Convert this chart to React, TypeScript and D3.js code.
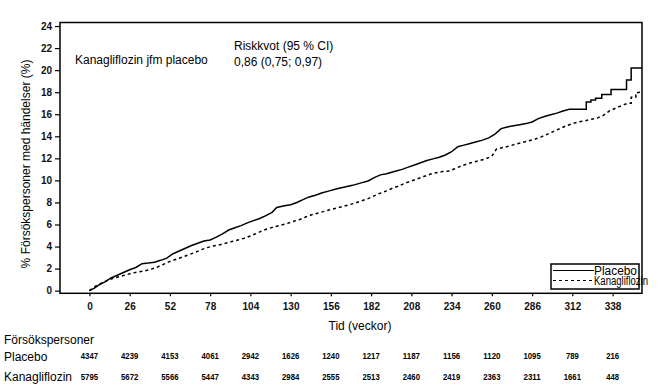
import React, { useEffect, useRef } from 'react'
import * as d3 from 'd3'

// Kaplan-Meier cumulative incidence (%): [week, percent]
// repeated weeks mark the visible vertical steps
const placeboCurve: [number, number][] = [
  [0, 0], [3, 0.2], [6, 0.5], [10, 0.8], [14, 1.15], [18, 1.4], [22, 1.65], [26, 1.9],
  [30, 2.1], [34, 2.45], [38, 2.5], [42, 2.57], [46, 2.75], [50, 2.95], [54, 3.35], [58, 3.6],
  [62, 3.85], [66, 4.1], [70, 4.3], [74, 4.5], [78, 4.6], [82, 4.85], [86, 5.15], [90, 5.5],
  [94, 5.7], [98, 5.9], [102, 6.15], [106, 6.35], [110, 6.55], [114, 6.8], [118, 7.1], [121, 7.55],
  [126, 7.7], [130, 7.8], [134, 8.0], [138, 8.25], [142, 8.5], [146, 8.65], [150, 8.85], [155, 9.05],
  [160, 9.25], [165, 9.4], [170, 9.55], [175, 9.75], [180, 9.95], [184, 10.25], [188, 10.5], [192, 10.6],
  [197, 10.8], [202, 11.0], [206, 11.2], [210, 11.4], [214, 11.6], [218, 11.8], [222, 11.95], [226, 12.1],
  [230, 12.3], [234, 12.6], [238, 13.05], [242, 13.2], [246, 13.35], [250, 13.5], [254, 13.65], [258, 13.85],
  [262, 14.2], [266, 14.7], [270, 14.85], [274, 14.95], [278, 15.05], [282, 15.15], [286, 15.3], [290, 15.6],
  [294, 15.8], [298, 15.95], [302, 16.1], [306, 16.3], [310, 16.45], [321, 16.45], [321, 17.1], [324, 17.1],
  [324, 17.3], [327, 17.3], [327, 17.45], [331, 17.45], [331, 17.8], [337, 17.8], [337, 18.25], [347, 18.25],
  [347, 19.1], [350, 19.1], [350, 20.2], [357, 20.2],
]

const kanaCurve: [number, number][] = [
  [0, 0], [2, 0.2], [5, 0.5], [8, 0.7], [12, 0.95], [16, 1.15], [20, 1.3], [24, 1.45],
  [28, 1.6], [32, 1.7], [36, 1.8], [40, 1.95], [44, 2.15], [48, 2.4], [52, 2.65], [56, 2.85],
  [60, 3.05], [64, 3.25], [68, 3.45], [72, 3.7], [76, 3.9], [80, 4.05], [84, 4.15], [88, 4.3],
  [92, 4.45], [96, 4.6], [100, 4.75], [104, 4.95], [108, 5.2], [112, 5.45], [116, 5.65], [120, 5.8],
  [124, 5.95], [128, 6.1], [132, 6.3], [136, 6.45], [140, 6.7], [144, 6.9], [148, 7.05], [152, 7.2],
  [156, 7.35], [160, 7.5], [164, 7.65], [168, 7.8], [172, 7.95], [176, 8.15], [180, 8.35], [184, 8.6],
  [188, 8.85], [192, 9.05], [196, 9.3], [200, 9.5], [204, 9.75], [208, 9.95], [212, 10.15], [216, 10.35],
  [220, 10.55], [224, 10.7], [228, 10.8], [232, 10.85], [236, 11.05], [240, 11.3], [244, 11.5], [248, 11.65],
  [252, 11.8], [256, 11.95], [260, 12.2], [263, 12.85], [268, 13.0], [272, 13.15], [276, 13.3], [280, 13.45],
  [284, 13.6], [288, 13.75], [292, 13.95], [296, 14.2], [300, 14.45], [304, 14.7], [308, 14.95], [312, 15.15],
  [316, 15.3], [320, 15.4], [324, 15.55], [328, 15.65], [332, 15.9], [336, 16.3], [340, 16.55], [344, 16.8],
  [348, 17.0], [350, 17.0], [350, 17.55], [353, 17.55], [353, 17.95], [357, 18.0],
]

const weekTicks = [0, 26, 52, 78, 104, 130, 156, 182, 208, 234, 260, 286, 312, 338]
const percentTicks = [0, 2, 4, 6, 8, 10, 12, 14, 16, 18, 20, 22, 24]
const atRiskPlacebo = [4347, 4239, 4153, 4061, 2942, 1626, 1240, 1217, 1187, 1156, 1120, 1095, 789, 216]
const atRiskKana = [5795, 5672, 5566, 5447, 4343, 2984, 2555, 2513, 2460, 2419, 2363, 2311, 1661, 448]

const font = '"Liberation Sans", Arial, sans-serif'

export default function App() {
  const svgRef = useRef<SVGSVGElement>(null)

  useEffect(() => {
    const svg = d3.select(svgRef.current)
    svg.selectAll('*').remove()

    const x = d3.scaleLinear().domain([-19, 357]).range([60, 642])
    const y = d3.scaleLinear().domain([-0.24, 24.32]).range([293.3, 22.5])

    // frame
    svg.append('rect')
      .attr('x', 60).attr('y', 22.5)
      .attr('width', 582).attr('height', 270.8)
      .attr('fill', 'none').attr('stroke', '#000').attr('stroke-width', 1.5)

    const yAxis = svg.append('g')
      .attr('transform', 'translate(60,0)')
      .call(d3.axisLeft(y).tickValues(percentTicks).tickSize(5).tickPadding(3))
    yAxis.select('.domain').remove()

    const xAxis = svg.append('g')
      .attr('transform', 'translate(0,293.3)')
      .call(d3.axisBottom(x).tickValues(weekTicks).tickSize(3).tickPadding(7))
    xAxis.select('.domain').remove()

    svg.selectAll('.tick text')
      .attr('font-family', font).attr('font-size', 10).attr('font-weight', 'bold').attr('fill', '#111')
    svg.selectAll('.tick line').attr('stroke', '#000').attr('stroke-width', 1.2)

    const line = d3.line<[number, number]>()
      .x(d => x(d[0]))
      .y(d => y(d[1]))

    svg.append('path')
      .attr('d', line(placeboCurve))
      .attr('fill', 'none').attr('stroke', '#000').attr('stroke-width', 1.5)

    svg.append('path')
      .attr('d', line(kanaCurve))
      .attr('fill', 'none').attr('stroke', '#000').attr('stroke-width', 1.5)
      .attr('stroke-dasharray', '3,3')

    // labels
    const txt = (s: string, tx: number, ty: number, size = 12, anchor = 'start') =>
      svg.append('text').text(s)
        .attr('x', tx).attr('y', ty)
        .attr('font-family', font).attr('font-size', size)
        .attr('text-anchor', anchor).attr('fill', '#000')

    txt('Tid (veckor)', 360, 330, 12, 'middle')
    svg.append('text')
      .text('% Försökspersoner med händelser (%)')
      .attr('transform', 'translate(30,164) rotate(-90)')
      .attr('text-anchor', 'middle')
      .attr('font-family', font).attr('font-size', 12)

    txt('Kanagliflozin jfm placebo', 75, 64)
    txt('Riskkvot (95 % CI)', 234, 50)
    txt('0,86 (0,75; 0,97)', 234, 66)

    // legend
    const lg = svg.append('g')
    lg.append('rect')
      .attr('x', 551).attr('y', 264).attr('width', 88).attr('height', 25)
      .attr('fill', '#fff').attr('stroke', '#000').attr('stroke-width', 1.5)
    lg.append('line').attr('x1', 553).attr('x2', 594).attr('y1', 270.5).attr('y2', 270.5)
      .attr('stroke', '#000').attr('stroke-width', 1.2)
    lg.append('line').attr('x1', 553).attr('x2', 593).attr('y1', 280.5).attr('y2', 280.5)
      .attr('stroke', '#000').attr('stroke-width', 1.2).attr('stroke-dasharray', '3,3')
    lg.append('text').text('Placebo').attr('x', 594).attr('y', 275)
      .attr('font-family', font).attr('font-size', 12)
      .attr('textLength', 43).attr('lengthAdjust', 'spacingAndGlyphs')
    lg.append('text').text('Kanagliflozin').attr('x', 594).attr('y', 284.5)
      .attr('font-family', font).attr('font-size', 12)
      .attr('textLength', 54).attr('lengthAdjust', 'spacingAndGlyphs')

    // number at risk table
    txt('Försökspersoner', 4, 344)
    txt('Placebo', 4, 361)
    txt('Kanagliflozin', 4, 381)
    const row = (vals: number[], ty: number) =>
      svg.append('g').selectAll('text').data(vals).join('text')
        .text(d => String(d))
        .attr('x', (_, i) => x(weekTicks[i]))
        .attr('y', ty)
        .attr('text-anchor', 'middle')
        .attr('font-family', font).attr('font-size', 9.5).attr('font-weight', 'bold')
        .attr('textLength', d => String(d).length * 4.3)
        .attr('lengthAdjust', 'spacingAndGlyphs')
    row(atRiskPlacebo, 359)
    row(atRiskKana, 380)
  }, [])

  return (
    <div style={{ position: 'absolute', left: 0, top: 0, background: '#fff' }}>
      <svg ref={svgRef} width={660} height={385} style={{ display: 'block' }} />
    </div>
  )
}
